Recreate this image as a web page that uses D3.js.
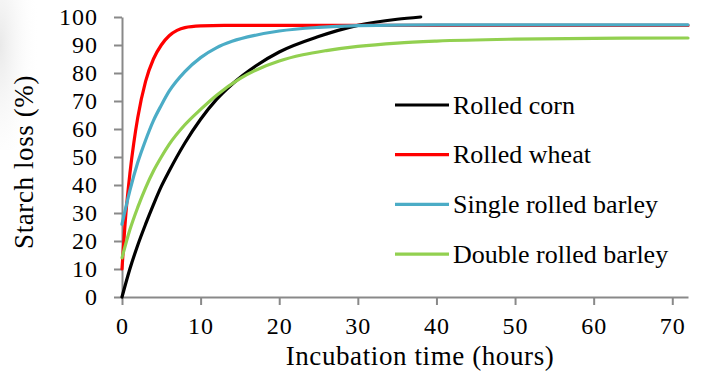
<!DOCTYPE html>
<html>
<head>
<meta charset="utf-8">
<script src="https://cdn.jsdelivr.net/npm/d3@7"></script>
<style>
  body { margin: 0; background: #fff; }
  svg text { font-family: "Liberation Serif", "DejaVu Serif", serif; fill: #000; }
</style>
</head>
<body>
<div id="chart"></div>
<script>
// series names and colours
const seriesNames = ["Rolled corn", "Rolled wheat", "Single rolled barley", "Double rolled barley"];
const seriesColors = ["#000000", "#ff0000", "#4bacc6", "#92d050"];

// values (hours, % starch loss)
const cornHours = [0, 1, 2, 3, 4, 5, 6, 8, 10, 12, 14, 17, 20, 25, 30, 35, 38];
const cornLoss = [0, 10, 18.5, 26, 33, 39.5, 45, 55, 63.5, 70.5, 76, 82.5, 87.5, 93, 97, 99.2, 100];

const wheatHours = [0, 0.5, 1, 1.5, 2, 3, 4, 5, 6, 7, 8, 10, 13, 20, 40, 72];
const wheatLoss = [10, 30, 44, 55, 64, 77, 85, 90, 93.3, 95.2, 96.2, 96.8, 97, 97, 97, 97];

const singleHours = [0, 1, 2, 3, 4, 5, 6, 8, 10, 12, 14, 17, 20, 25, 30, 40, 72];
const singleLoss = [26, 38, 48, 56, 63, 68.5, 73.5, 80.5, 85.5, 89, 91.3, 93.5, 95, 96.3, 96.9, 97.2, 97.2];

const doubleHours = [0, 1, 2, 3, 4, 5, 6, 8, 10, 12, 15, 17, 20, 23, 26, 30, 35, 40, 50, 60, 72];
const doubleLoss = [14, 24, 32, 39, 45, 50, 54.5, 61.5, 67, 72, 78, 81, 84.3, 86.5, 88, 89.5, 90.7, 91.4, 92.1, 92.4, 92.5];

const xTicks = [0, 10, 20, 30, 40, 50, 60, 70];
const yTicks = [0, 10, 20, 30, 40, 50, 60, 70, 80, 90, 100];

const hoursList = [cornHours, wheatHours, singleHours, doubleHours];
const lossList = [cornLoss, wheatLoss, singleLoss, doubleLoss];

const width = 708, height = 375;
const margin = { top: 17, right: 20, bottom: 78, left: 122 };

const svg = d3.select("#chart").append("svg")
  .attr("width", width)
  .attr("height", height);

// faint grey shade in the top left corner
const defs = svg.append("defs");
const grad = defs.append("radialGradient")
  .attr("id", "shade")
  .attr("cx", 0).attr("cy", 0.3).attr("r", 1);
grad.append("stop").attr("offset", "0%").attr("stop-color", "#e9e9e9");
grad.append("stop").attr("offset", "100%").attr("stop-color", "#ffffff").attr("stop-opacity", 0);
svg.append("rect")
  .attr("x", 0).attr("y", 0)
  .attr("width", 40).attr("height", 150)
  .attr("fill", "url(#shade)");

const x = d3.scaleLinear().domain([0, 72]).range([margin.left, width - margin.right]);
const y = d3.scaleLinear().domain([0, 100]).range([height - margin.bottom, margin.top]);

// axes
const xAxis = svg.append("g")
  .attr("transform", "translate(0," + y(0) + ")")
  .call(d3.axisBottom(x).tickValues(xTicks).tickSize(8).tickPadding(12).tickSizeOuter(0));

const yAxis = svg.append("g")
  .attr("transform", "translate(" + x(0) + ",0)")
  .call(d3.axisLeft(y).tickValues(yTicks).tickSize(8).tickPadding(16).tickSizeOuter(0));

[xAxis, yAxis].forEach(a => {
  a.selectAll("path, line").attr("stroke", "#898989").attr("stroke-width", 2);
  a.selectAll("text")
    .attr("font-size", 24)
    .attr("letter-spacing", "1px")
    .attr("font-family", "Liberation Serif");
});

// lines
const line = d3.line()
  .x(d => x(d[0]))
  .y(d => y(d[1]))
  .curve(d3.curveMonotoneX);

seriesNames.forEach((name, i) => {
  const pts = hoursList[i].map((h, j) => [h, lossList[i][j]]);
  svg.append("path")
    .datum(pts)
    .attr("fill", "none")
    .attr("stroke", seriesColors[i])
    .attr("stroke-width", 3.2)
    .attr("stroke-linecap", "round")
    .attr("d", line);
});

// legend
const legend = svg.append("g").attr("transform", "translate(395,105)");
seriesNames.forEach((name, i) => {
  const row = legend.append("g").attr("transform", "translate(0," + i * 49.7 + ")");
  row.append("line")
    .attr("x1", 0).attr("x2", 54)
    .attr("stroke", seriesColors[i])
    .attr("stroke-width", 3.2);
  row.append("text")
    .attr("x", 58)
    .attr("dy", "0.33em")
    .attr("font-size", 26)
    .text(name);
});

// axis titles
svg.append("text")
  .attr("x", 420)
  .attr("y", 365)
  .attr("text-anchor", "middle")
  .attr("font-size", 27)
  .attr("letter-spacing", "0.6px")
  .text("Incubation time (hours)");

svg.append("text")
  .attr("transform", "translate(33,162) rotate(-90)")
  .attr("text-anchor", "middle")
  .attr("font-size", 27)
  .attr("letter-spacing", "0.6px")
  .text("Starch loss (%)");
</script>
</body>
</html>
